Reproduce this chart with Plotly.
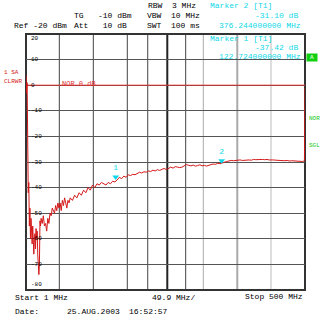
import plotly.graph_objects as go

# ---- data ----
freq_mhz = [1, 2, 3, 4, 5, 6, 7, 8, 9, 10, 11, 12, 13, 14, 15, 16, 17, 18, 19, 20,
            21, 22, 23, 24, 25, 26, 27, 28, 30, 32, 34, 36, 38, 40, 42, 44, 46, 48, 50,
            52, 54, 56, 58, 60, 62, 64, 66, 68, 70, 72, 74, 76, 78, 80, 84, 88, 92, 96,
            100, 104, 108, 112, 116, 120, 124, 128, 132, 136, 140, 144, 148, 152, 156,
            160, 164, 168, 172, 176, 180, 184, 188, 192, 196, 200, 204, 208, 212, 216,
            220, 224, 228, 232, 236, 240, 244, 248, 252, 256, 260, 264, 268, 272, 276,
            280, 284, 288, 292, 296, 300, 304, 308, 312, 316, 320, 324, 328, 332, 336,
            340, 344, 348, 352, 356, 360, 364, 368, 372, 376, 380, 384, 388, 392, 396,
            400, 404, 408, 412, 416, 420, 424, 428, 432, 436, 440, 444, 448, 452, 456,
            460, 464, 468, 472, 476, 480, 484, 488, 492, 496, 499, 500]
level_db = [4, -3, 1, -30, -42, -38, -55, -48, -60, -52, -58, -62, -55, -63, -66, -60,
            -58, -64, -56, -60, -57, -66, -72, -74, -70, -53, -55, -52, -54, -51, -55,
            -54, -57, -52, -54, -50, -51, -48, -49, -50, -47, -49, -46, -48, -46, -49,
            -45, -47, -44, -46, -48, -45, -46, -44, -45, -43, -44, -42, -43, -41, -42,
            -40, -41, -39, -40, -38.5, -39, -38, -38.5, -39, -38, -38.5, -37.5, -37.8,
            -37, -36, -36.5, -35.5, -36, -35, -35.3, -34.8, -35, -34.5, -34, -34.3,
            -33.8, -34, -33.5, -33.7, -33.2, -33.5, -33, -33.3, -32.8, -32.5, -33,
            -32.5, -32, -32.4, -31.8, -32, -32.2, -32, -31.5, -31, -31.3, -31.5, -31.2,
            -31.6, -31.4, -31.1, -31.5, -31.3, -31.6, -31.2, -31, -30.8, -30.9, -30.5,
            -30.7, -30.4, -30, -29.8, -29.6, -29.4, -29.5, -29.3, -29.4, -29.2, -29.4,
            -29.3, -29.1, -29.2, -29.3, -29, -29.1, -29, -28.9, -29, -29.1, -29, -29.2,
            -29.1, -29.2, -29.3, -29.4, -29.3, -29.4, -29.5, -29.4, -29.6, -29.5, -29.6,
            -29.7, -29.6, -29.7, -29.8, -29.5, -1]

marker_names = ["1", "2"]
marker_freq = [161.4, 351.0]
marker_level = [-37.42, -31.10]

y_ticks = [20, 10, 0, -10, -20, -30, -40, -50, -60, -70, -80]
grid_x = [60.6, 121.4, 182.2, 218.7, 253.7, 286.6, 318.1, 378.9, 439.2]
grid_col = ["#444", "#444", "#444", "#444", "#222", "#444", "#aaa", "#aaa", "#bbb"]
grid_w = [1, 1, 1, 1, 2, 1, 1, 2, 1]

# ---- figure ----
L, R, T, B = 26, 305, 34, 290
W, H = 320, 317

def px(x):
    return (x - L) / (R - L)

def py(y):
    return (B - y) / (B - T)

MONO = "Liberation Mono"
RED = "#d41818"
CYAN = "#10d8e8"
GREEN = "#18c818"

fig = go.Figure()

# NOR reference line at 0 dB
fig.add_trace(go.Scatter(x=[1, 500], y=[0, 0], mode="lines",
                         line=dict(color="#e03030", width=1), hoverinfo="skip"))
# trace
fig.add_trace(go.Scatter(x=freq_mhz, y=level_db, mode="lines",
                         line=dict(color=RED, width=1), cliponaxis=False))
# markers
fig.add_trace(go.Scatter(x=marker_freq, y=[v + 1.6 for v in marker_level],
                         mode="markers+text", text=marker_names,
                         textposition="top center",
                         textfont=dict(family=MONO, size=8, color=CYAN),
                         marker=dict(symbol="triangle-down", size=6, color=CYAN)))

shapes = []
for gx, gc, gw in zip(grid_x, grid_col, grid_w):
    shapes.append(dict(type="line", xref="x", yref="paper", x0=gx, x1=gx, y0=0, y1=1,
                       line=dict(color=gc, width=gw), layer="below"))
shapes.append(dict(type="rect", xref="paper", yref="paper", x0=0, x1=1, y0=0, y1=1,
                   line=dict(color="#333", width=2), layer="below"))

ann = []
def text(x, y, s, color="black", size=8, anchor="left", bg=None):
    d = dict(x=px(x), y=py(y), xref="paper", yref="paper", text=s, showarrow=False,
             xanchor=anchor, yanchor="middle",
             font=dict(family=MONO, size=size, color=color))
    if bg:
        d["bgcolor"] = bg
        d["borderpad"] = 0
    ann.append(d)

# header
text(146, 5, "RBW  3 MHz")
text(72, 15, "TG   -10 dBm")
text(145, 15, "VBW  10 MHz")
text(12, 25, "Ref -20 dBm")
text(72, 25, "Att   10 dB")
text(145, 25, "SWT  100 ms")
text(208, 5, "Marker 2 [T1]", CYAN)
text(300, 15, "-31.10 dB", CYAN, anchor="right")
text(303, 25, "376.244000000 MHz", CYAN, anchor="right")
text(208, 38, "Marker 1 [T1]", CYAN)
text(300, 47, "-37.42 dB", CYAN, anchor="right")
text(303, 56, "122.724000000 MHz", CYAN, anchor="right")
# NOR label
text(60, 84, "NOR 0 dB", "#e03030", size=7)
# left labels
text(2, 72, "1 SA", RED, size=6)
text(2, 81, "CLRWR", RED, size=6)
# right labels
text(307, 118, "NOR", GREEN, size=6)
text(307, 145, "SGL", GREEN, size=6)
ann.append(dict(x=px(312), y=py(57), xref="paper", yref="paper", text="A",
                showarrow=False, xanchor="center", yanchor="middle",
                bgcolor="#10d010", width=10, height=7, borderpad=0,
                font=dict(family=MONO, size=6, color="white")))
# y labels inside plot
for v in y_ticks:
    ypix = T + (20 - v) * (B - T) / 100.0
    if v == 20:
        ypix = 38
    if v == -80:
        ypix = 284
    ann.append(dict(x=px(29), y=(B - ypix) / (B - T), xref="paper", yref="paper",
                    text=str(v), showarrow=False, xanchor="left", yanchor="middle",
                    font=dict(family=MONO, size=6, color="black")))
# footer
text(13, 297, "Start 1 MHz")
text(150, 297, "49.9 MHz/")
text(305, 296, "Stop 500 MHz", anchor="right")
text(13, 311, "Date:")
text(65, 311, "25.AUG.2003")
text(127, 311, "16:52:57")

fig.update_layout(
    width=W, height=H,
    margin=dict(l=L, r=W - R, t=T, b=H - B, pad=0),
    paper_bgcolor="white", plot_bgcolor="white",
    showlegend=False,
    xaxis=dict(range=[1, 500], showgrid=False, zeroline=False, showticklabels=False,
               ticks="", fixedrange=True),
    yaxis=dict(range=[-80, 20], tickvals=y_ticks[1:-1], showgrid=True,
               gridcolor="#555", gridwidth=1, zeroline=False, showticklabels=False,
               ticks="", fixedrange=True),
    shapes=shapes, annotations=ann,
)

fig.write_html("out.html")
